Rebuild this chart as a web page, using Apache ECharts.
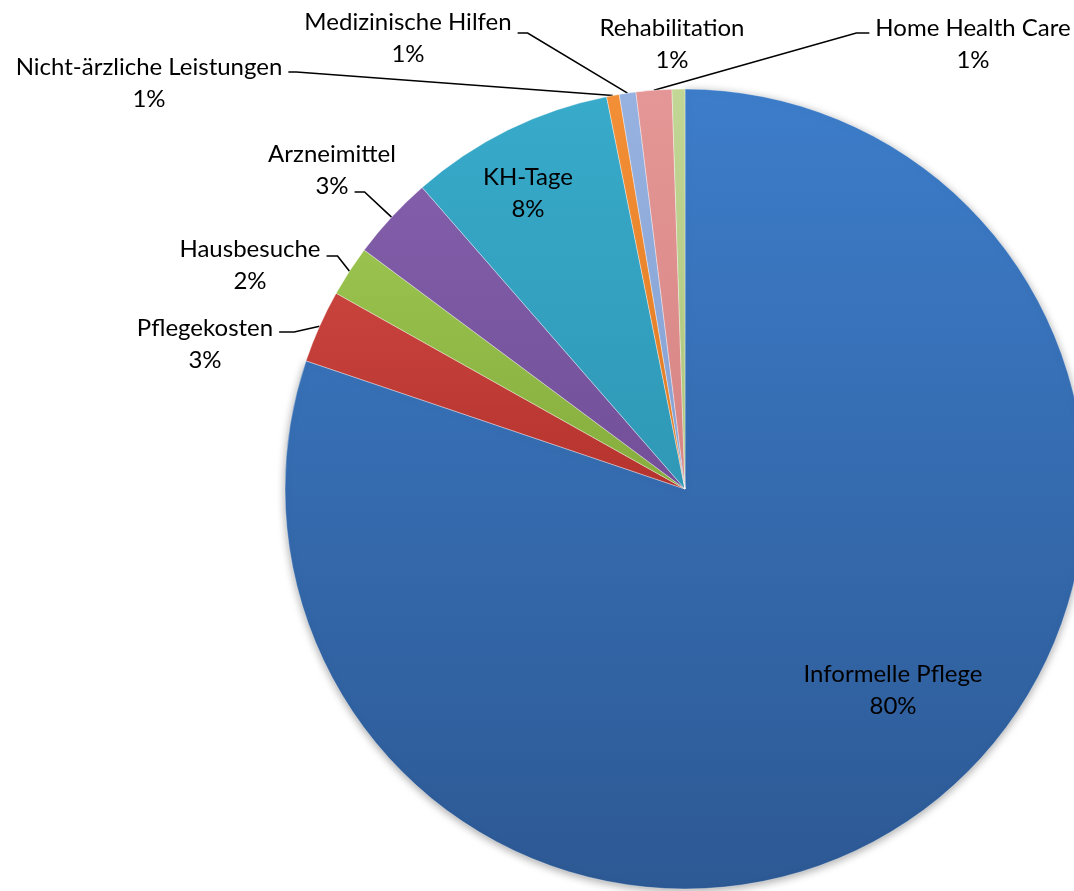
<!DOCTYPE html>
<html>
<head>
<meta charset="utf-8">
<script src="https://cdn.jsdelivr.net/npm/echarts@6/dist/echarts.min.js"></script>
<style>
  html, body { margin: 0; padding: 0; background: #ffffff; }
  #chart { width: 1074px; height: 891px; }
</style>
</head>
<body>
<div id="chart"></div>
<script>
// Cost shares (percent), clockwise from 12 o'clock
const categories = [
  'Informelle Pflege',
  'Pflegekosten',
  'Hausbesuche',
  'Arzneimittel',
  'KH-Tage',
  'Nicht-ärzliche Leistungen',
  'Medizinische Hilfen',
  'Home Health Care',
  'Rehabilitation'
];
const shares = [80.19, 2.95, 2.05, 3.40, 8.27, 0.51, 0.67, 1.44, 0.52];

// [light, dark] fill per slice
const sliceColors = [
  ['#3d7dca', '#2d5994'],
  ['#c9433d', '#b5332e'],
  ['#99c24e', '#86ad3d'],
  ['#825eaa', '#724f98'],
  ['#38aaca', '#2f98b6'],
  ['#f38f36', '#e07a22'],
  ['#97b2e0', '#84a1d3'],
  ['#e49796', '#d68483'],
  ['#c2d695', '#adc57c']
];

const FONT = 'Lato, "Liberation Sans", sans-serif';
const FONT_SIZE = 24;
const LINE_H = 32;

// Where each two-line label sits (block centre), and how its leader line attaches
const labelPlacement = {
  'Informelle Pflege':         { x: 893, y: 690 },
  'KH-Tage':                   { x: 528, y: 193 },
  'Pflegekosten':              { x: 205, y: 344, row: 0, side: 'right', stub: 15, lift: 4 },
  'Hausbesuche':               { x: 250, y: 265, row: 0, side: 'right', stub: 11, lift: 7 },
  'Arzneimittel':              { x: 332, y: 170, row: 1, side: 'right', stub: 10, lift: 6 },
  'Nicht-ärzliche Leistungen': { x: 149, y: 83,  row: 0, side: 'right', stub: 8,  lift: 5 },
  'Medizinische Hilfen':       { x: 408, y: 38,  row: 0, side: 'right', stub: 10, lift: 11 },
  'Home Health Care':          { x: 973, y: 44,  row: 0, side: 'left',  stub: 13, lift: 5 },
  'Rehabilitation':            { x: 672, y: 44 }
};
const insideLabels = ['Informelle Pflege', 'KH-Tage'];
const noLeader = ['Rehabilitation'];

const measureCtx = document.createElement('canvas').getContext('2d');
measureCtx.font = FONT_SIZE + 'px ' + FONT;
function textWidth(s) { return measureCtx.measureText(s).width; }

function pctText(v) {
  const total = shares.reduce((a, b) => a + b, 0);
  return Math.round(v / total * 100) + '%';
}

const pieData = categories.map((name, i) => {
  const c = sliceColors[i];
  const item = {
    name: name,
    value: shares[i],
    itemStyle: {
      color: {
        type: 'linear', x: 0, y: 0, x2: 0, y2: 1,
        colorStops: [{ offset: 0, color: c[0] }, { offset: 1, color: c[1] }]
      }
    }
  };
  if (i === 0) {
    item.itemStyle.shadowBlur = 8;
    item.itemStyle.shadowColor = 'rgba(0,0,0,0.35)';
    item.itemStyle.shadowOffsetY = 2;
  }
  if (insideLabels.indexOf(name) >= 0) {
    item.label = { position: 'inside' };
    item.labelLine = { show: false };
  } else if (noLeader.indexOf(name) >= 0) {
    item.labelLine = { show: false };
  }
  return item;
});

const chart = echarts.init(document.getElementById('chart'), null, { renderer: 'canvas' });

chart.setOption({
  backgroundColor: '#ffffff',
  animation: false,
  series: [{
    type: 'pie',
    center: [685, 489],
    radius: 400,
    startAngle: 90,
    clockwise: true,
    avoidLabelOverlap: false,
    data: pieData,
    itemStyle: {
      borderColor: 'rgba(255,255,255,0.35)',
      borderWidth: 1
    },
    label: {
      show: true,
      position: 'outside',
      overflow: 'none',
      color: '#000000',
      fontFamily: FONT,
      fontSize: FONT_SIZE,
      lineHeight: LINE_H,
      align: 'center',
      formatter: p => p.name + '\n' + pctText(p.value)
    },
    labelLine: {
      show: true,
      length: 10,
      length2: 10,
      lineStyle: { color: '#000000', width: 1.6 }
    },
    labelLayout: function (params) {
      const name = categories[params.dataIndex];
      const pl = labelPlacement[name];
      const out = { x: pl.x, y: pl.y, align: 'center', verticalAlign: 'middle', width: 600 };
      if (pl.side && params.labelLinePoints && params.labelLinePoints.length) {
        const rowText = pl.row === 0 ? name : pctText(shares[params.dataIndex]);
        const w = textWidth(rowText);
        const rowY = pl.y - LINE_H / 2 + pl.row * LINE_H;
        const ay = rowY + pl.lift;
        const ax = pl.side === 'right' ? pl.x + w / 2 + 6 : pl.x - w / 2 - 6;
        const bx = pl.side === 'right' ? ax + pl.stub : ax - pl.stub;
        const edge = params.labelLinePoints[0];
        out.labelLinePoints = [[edge[0], edge[1]], [bx, ay], [ax, ay]];
      }
      return out;
    }
  }]
});
</script>
</body>
</html>
